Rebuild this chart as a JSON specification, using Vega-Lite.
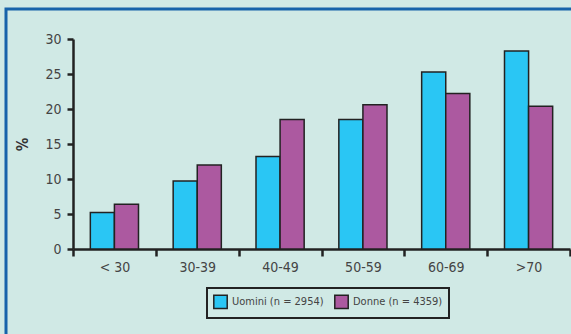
{
  "$schema": "https://vega.github.io/schema/vega-lite/v6.json",
  "width": 580,
  "height": 340,
  "autosize": {"type": "none"},
  "padding": {"left": 6, "top": 9, "right": 0, "bottom": 0},
  "background": "#D0E9E5",
  "config": {
    "view": {"stroke": "#1763AA", "strokeWidth": 3, "fill": "#D0E9E5"},
    "font": "DejaVu Sans Condensed"
  },
  "data": {
    "values": [
      {"eta": "< 30", "sesso": "Uomini (n = 2954)", "pct": 5.2},
      {"eta": "< 30", "sesso": "Donne (n = 4359)", "pct": 6.4},
      {"eta": "30-39", "sesso": "Uomini (n = 2954)", "pct": 9.7},
      {"eta": "30-39", "sesso": "Donne (n = 4359)", "pct": 12.0},
      {"eta": "40-49", "sesso": "Uomini (n = 2954)", "pct": 13.2},
      {"eta": "40-49", "sesso": "Donne (n = 4359)", "pct": 18.5},
      {"eta": "50-59", "sesso": "Uomini (n = 2954)", "pct": 18.5},
      {"eta": "50-59", "sesso": "Donne (n = 4359)", "pct": 20.6},
      {"eta": "60-69", "sesso": "Uomini (n = 2954)", "pct": 25.3},
      {"eta": "60-69", "sesso": "Donne (n = 4359)", "pct": 22.2},
      {"eta": ">70", "sesso": "Uomini (n = 2954)", "pct": 28.3},
      {"eta": ">70", "sesso": "Donne (n = 4359)", "pct": 20.4}
    ]
  },
  "mark": {"type": "bar", "stroke": "#222222", "strokeWidth": 1.5},
  "encoding": {
    "x": {
      "field": "eta",
      "type": "nominal",
      "sort": ["< 30", "30-39", "40-49", "50-59", "60-69", ">70"],
      "scale": {"range": [67, 564], "paddingInner": 0, "paddingOuter": 0},
      "axis": {
        "title": null,
        "orient": "bottom",
        "offset": -100,
        "tickBand": "extent",
        "labelAngle": 0,
        "domainColor": "#222222",
        "domainWidth": 2.5,
        "tickColor": "#222222",
        "tickWidth": 2.5,
        "tickSize": 7,
        "labelColor": "#444444",
        "labelFontSize": 14,
        "labelPadding": 4
      }
    },
    "xOffset": {
      "field": "sesso",
      "sort": ["Uomini (n = 2954)", "Donne (n = 4359)"],
      "scale": {"paddingInner": 0, "paddingOuter": 0.72}
    },
    "y": {
      "field": "pct",
      "type": "quantitative",
      "scale": {"domain": [0, 30], "range": [240, 30], "nice": false},
      "axis": {
        "title": "%",
        "offset": -67,
        "values": [0, 5, 10, 15, 20, 25, 30],
        "grid": false,
        "domainColor": "#222222",
        "domainWidth": 2.5,
        "tickColor": "#222222",
        "tickWidth": 2.5,
        "tickSize": 6,
        "labelColor": "#444444",
        "labelFontSize": 14,
        "labelPadding": 6,
        "titleFontSize": 15,
        "titleFontWeight": "bold",
        "titleColor": "#333333",
        "titlePadding": 14
      }
    },
    "color": {
      "field": "sesso",
      "type": "nominal",
      "scale": {
        "domain": ["Uomini (n = 2954)", "Donne (n = 4359)"],
        "range": ["#2AC6F4", "#AC59A0"]
      },
      "legend": {
        "title": null,
        "orient": "none",
        "legendX": 201,
        "legendY": 279,
        "direction": "horizontal",
        "strokeColor": "#222222",
        "padding": 6,
        "symbolType": "square",
        "symbolSize": 180,
        "symbolStrokeColor": "#222222",
        "symbolStrokeWidth": 1.5,
        "labelFontSize": 11,
        "labelColor": "#444444",
        "labelOffset": 4,
        "columnPadding": 7,
        "encode": {"legend": {"update": {"strokeWidth": {"value": 2}}}}
      }
    }
  }
}
